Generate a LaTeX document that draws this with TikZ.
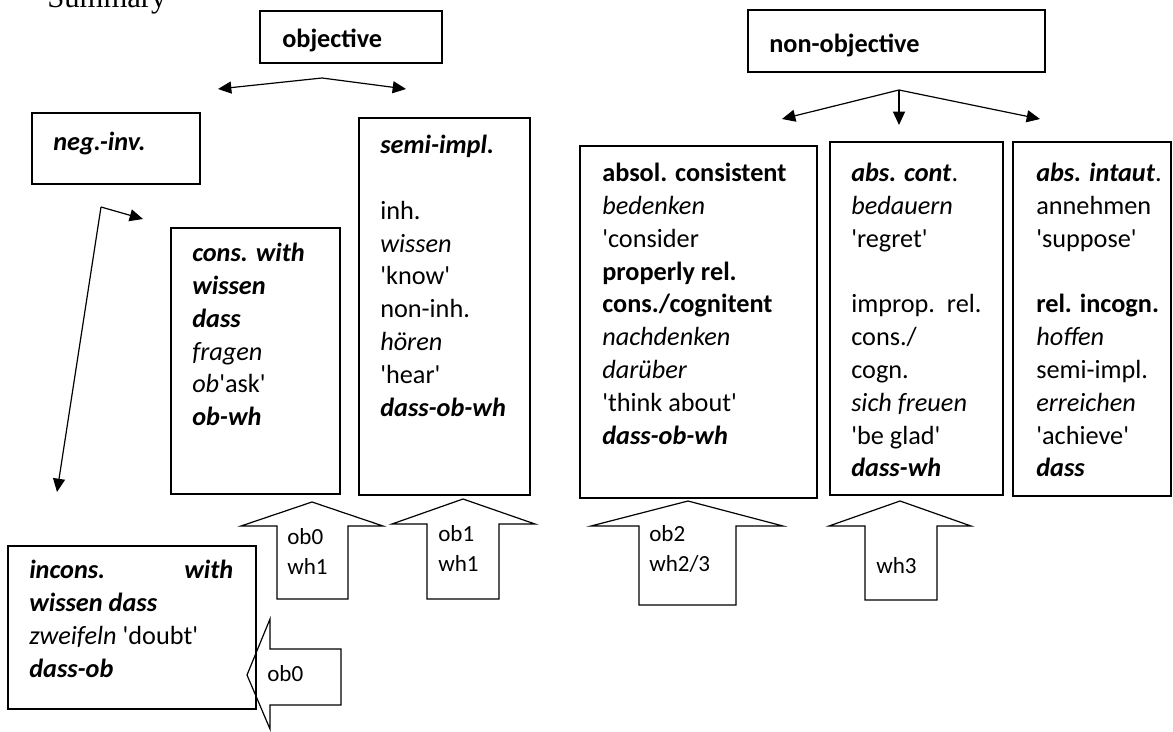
\documentclass[tikz,border=0pt]{standalone}
\usepackage{fontspec}
\setmainfont{Carlito}
\newfontfamily\timesfont{Liberation Serif}
\usetikzlibrary{positioning, arrows.meta}
\newcommand{\bi}[1]{\textbf{\textit{#1}}} % bold italic
\newcommand{\sq}{\textquotesingle}       % straight quote
\tikzset{
    x=0.75pt, y=-0.75pt, % one unit = one pixel of the page, y downwards
    box/.style={draw, line width=0.9pt},
    txt/.style={ % text inside the boxes, placed at its first baseline
        font=\fontsize{19.7}{24.6}\selectfont,
        inner sep=0pt, align=left, anchor=north west,
        yshift=15pt, execute at begin node={\rule{0pt}{15pt}}
    },
    small/.style={ % text inside the block arrows
        font=\fontsize{17.3}{21.8}\selectfont,
        inner sep=0pt, align=left, anchor=north west,
        yshift=13pt, execute at begin node={\rule{0pt}{13pt}}
    },
    blk/.style={draw, line width=0.9pt, line join=miter},
    every edge/.style={
        draw,
        -{Triangle[length=10pt,width=9pt]},
        line width=0.9pt
    }
}

\begin{document}
\begin{tikzpicture}
        \useasboundingbox (0,0) rectangle (1173,731);
        \node[font=\timesfont\fontsize{23}{26}\selectfont, inner sep=0pt,
              anchor=base west]                 (summary)   at (47,8)    {Summary};

        % obere zeile
        \draw[box] (260,11) rectangle (442,63);
        \node[txt]                              (objective) at (282,47)  {\textbf{objective}};
        \draw[box] (748,10) rectangle (1045,72);
        \node[txt]                              (nonobj)    at (769,52)  {\textbf{non-objective}};

        % objective
        \draw[box] (32,113) rectangle (200,184);
        \node[txt]                              (neginv)    at (53,150)  {\bi{neg.-inv.}};
        \draw[box] (171,228) rectangle (340,494);
        \node[txt]                              (conswith)  at (192,263) {\bi{cons. with}\\ \bi{wissen}\\ \bi{dass}\\
                                                                           \textit{fragen}\\ \textit{ob}\sq ask\sq\\ \bi{ob-wh}};
        \draw[box] (359,118) rectangle (530,495);
        \node[txt]                              (semiimpl)  at (380,155) {\bi{semi-impl.}\\ \mbox{}\\ inh.\\ \textit{wissen}\\
                                                                           \sq know\sq\\ non-inh.\\ \textit{hören}\\
                                                                           \sq hear\sq\\ \bi{dass-ob-wh}};

        % non-objective
        \draw[box] (580,146) rectangle (817,498);
        \node[txt]                              (absol)     at (602,183) {\textbf{absol. consistent}\\ \textit{bedenken}\\
                                                                           \sq consider\\ \textbf{properly rel.}\\
                                                                           \textbf{cons./cognitent}\\ \textit{nachdenken}\\
                                                                           \textit{darüber}\\ \sq think about\sq\\
                                                                           \bi{dass-ob-wh}};
        \draw[box] (830,142) rectangle (1003,495);
        \node[txt]                              (abscont)   at (851,183) {\bi{abs. cont}.\\ \textit{bedauern}\\ \sq regret\sq\\
                                                                           \mbox{}\\ improp.\ \ rel.\\ cons./\\ cogn.\\
                                                                           \textit{sich freuen}\\ \sq be glad\sq\\ \bi{dass-wh}};
        \draw[box] (1013,142) rectangle (1171,496);
        \node[txt]                              (absintaut) at (1036,183) {\bi{abs. intaut}.\\ annehmen\\ \sq suppose\sq\\
                                                                           \mbox{}\\ \textbf{rel. incogn.}\\ \textit{hoffen}\\
                                                                           semi-impl.\\ \textit{erreichen}\\ \sq achieve\sq\\
                                                                           \bi{dass}};

        % unten links
        \draw[box] (8,546) rectangle (256,709);
        \node[txt]                              (incons)    at (29,580)  {\makebox[153pt][l]{\bi{incons.}\hfill\bi{with}}\\
                                                                           \bi{wissen dass}\\ \textit{zweifeln} \sq doubt\sq\\
                                                                           \bi{dass-ob}};

        % pfeile
        \coordinate (objfork)  at (322,78);
        \coordinate (objleft)  at (218,89);
        \coordinate (objright) at (406,89);
        \coordinate (nonfork)  at (899,90);
        \coordinate (nonleft)  at (782,119);
        \coordinate (nondown)  at (899,125);
        \coordinate (nonright) at (1040,119);
        \coordinate (negfork)  at (101,207);
        \coordinate (negright) at (143,219);
        \coordinate (negdown)  at (57,492);
        \draw
                (objfork) edge (objleft)
                (objfork) edge (objright)
                (nonfork) edge (nonleft)
                (nonfork) edge (nondown)
                (nonfork) edge (nonright)
                (negfork) edge (negright)
                (negfork) edge (negdown)
        ;

        % blockpfeile
        \draw[blk] (312,502) -- (383,526) -- (348,526) -- (348,599) -- (277,599) -- (277,526) -- (241,526) -- cycle;
        \node[small]                            (obzero)    at (287,546) {ob0\\ wh1};
        \draw[blk] (463,499) -- (535,524) -- (499,524) -- (499,599) -- (427,599) -- (427,524) -- (392,524) -- cycle;
        \node[small]                            (obone)     at (438,543) {ob1\\ wh1};
        \draw[blk] (688,501) -- (783,526) -- (736,526) -- (736,605) -- (639,605) -- (639,526) -- (591,526) -- cycle;
        \node[small]                            (obtwo)     at (649,543) {ob2\\ wh2/3};
        \draw[blk] (900,501) -- (971,526) -- (937,526) -- (937,600) -- (865,600) -- (865,526) -- (829,526) -- cycle;
        \node[small]                            (whthree)   at (876,573) {wh3};
        \draw[blk] (247,675) -- (270,619) -- (270,649) -- (341,649) -- (341,705) -- (270,705) -- (270,729) -- cycle;
        \node[small]                            (obleft)    at (267,681) {ob0};
\end{tikzpicture}
\end{document}
